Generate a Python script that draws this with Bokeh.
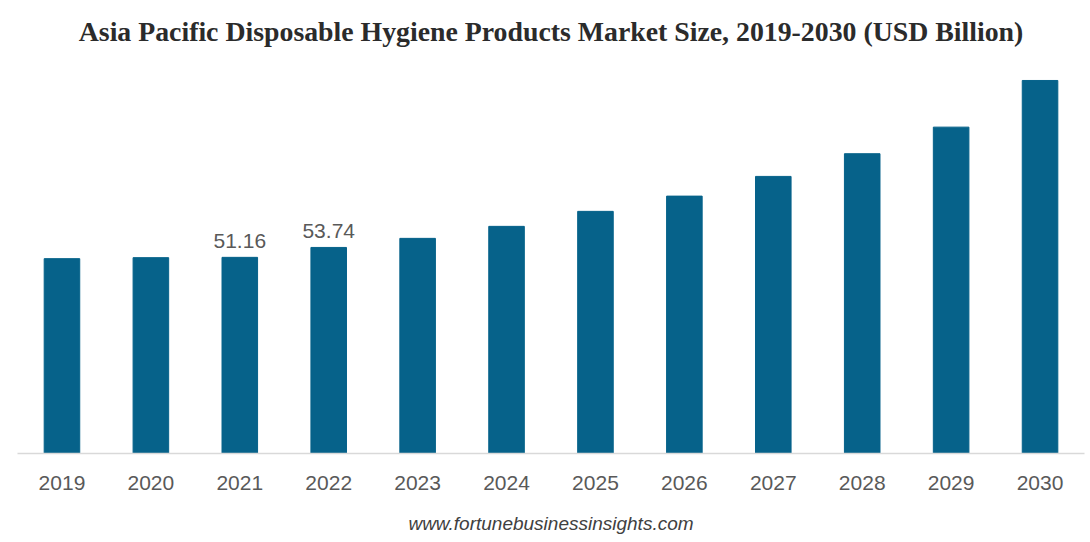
from bokeh.plotting import figure
from bokeh.models import Range1d, ColumnDataSource
from bokeh.core.properties import value
from bokeh.embed import file_html
from bokeh.resources import INLINE

years = ["2019", "2020", "2021", "2022", "2023", "2024", "2025", "2026", "2027", "2028", "2029", "2030"]
market_size = [50.82, 51.08, 51.16, 53.74, 56.11, 59.24, 63.15, 67.13, 72.27, 78.19, 85.12, 97.29]
data_labels = ["", "", "51.16", "53.74", "", "", "", "", "", "", "", ""]

title_text = "Asia Pacific Disposable Hygiene Products Market Size, 2019-2030 (USD Billion)"
footer_text = "www.fortunebusinessinsights.com"

BAR = "#06628A"
GRAY = "#595959"

src = ColumnDataSource(dict(year=years, size=market_size, label=data_labels))

p = figure(x_range=years, y_range=Range1d(0, 102.5),
           frame_width=1067, frame_height=393,
           output_backend="svg", toolbar_location=None,
           min_border_left=17, min_border_right=5, min_border_top=60, min_border_bottom=0,
           y_axis_location=None)

p.title.text = title_text
p.title.text_font = "Liberation Serif"
p.title.text_font_style = "bold"
p.title.text_font_size = "27.8px"
p.title.text_color = "#2b2b2b"
p.title.align = "center"
p.title.standoff = 27
p.title.offset = -6

p.vbar(x="year", top="size", width=0.4, source=src, color=BAR, line_color=BAR)
p.text(x="year", y="size", text="label", source=src, y_offset=-9,
       text_align="center", text_baseline="bottom",
       text_font=value("Liberation Sans"), text_font_size="21px", text_color=GRAY)

p.xaxis.axis_line_color = "#D9D9D9"
p.xaxis.axis_line_width = 1.5
p.xaxis.major_tick_line_color = None
p.xaxis.minor_tick_line_color = None
p.xaxis.major_label_text_font = "Liberation Sans"
p.xaxis.major_label_text_font_size = "21px"
p.xaxis.major_label_text_color = GRAY
p.xaxis.major_label_standoff = 16

p.xaxis.axis_label = footer_text
p.xaxis.axis_label_text_font = "Liberation Sans"
p.xaxis.axis_label_text_font_style = "italic"
p.xaxis.axis_label_text_font_size = "19px"
p.xaxis.axis_label_text_color = "#404040"
p.xaxis.axis_label_standoff = 20

p.xgrid.grid_line_color = None
p.ygrid.grid_line_color = None
p.outline_line_color = None
p.background_fill_color = "white"
p.border_fill_color = "white"

open("out.html", "w").write(file_html(p, INLINE))
